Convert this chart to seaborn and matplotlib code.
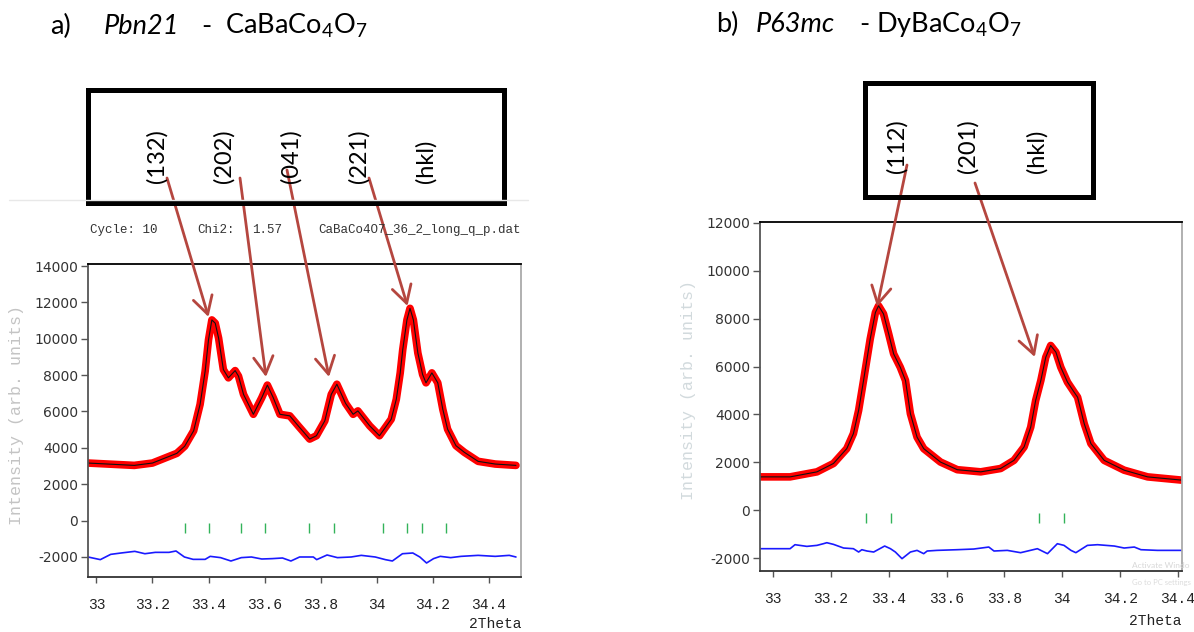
import numpy as np
import pandas as pd
import matplotlib
matplotlib.use("Agg")
import matplotlib.pyplot as plt
import seaborn as sns
from matplotlib.patches import Rectangle
from matplotlib.lines import Line2D

# ---------------- data ----------------
# panel a) Pbn21 - CaBaCo4O7
a_two_theta = [32.970, 33.135, 33.200, 33.287, 33.315, 33.347, 33.370, 33.388, 33.400, 33.412,
               33.424, 33.436, 33.444, 33.453, 33.471, 33.495, 33.507, 33.525, 33.560, 33.590,
               33.610, 33.631, 33.655, 33.690, 33.720, 33.761, 33.785, 33.815, 33.838, 33.858,
               33.889, 33.916, 33.933, 33.975, 34.010, 34.052, 34.070, 34.084, 34.093, 34.108,
               34.119, 34.131, 34.147, 34.164, 34.176, 34.197, 34.218, 34.236, 34.253, 34.283,
               34.313, 34.362, 34.423, 34.497]
a_intensity = [3166, 3037, 3166, 3700, 4090, 4940, 6393, 8216, 9942, 11035,
               10853, 10034, 9215, 8304, 7850, 8249, 7943, 6938, 5846, 6758,
               7452, 6758, 5846, 5760, 5213, 4484, 4667, 5486, 6938, 7500,
               6450, 5846, 6032, 5213, 4667, 5578, 6667, 8123, 9396, 11035,
               11672, 11035, 9215, 8031, 7577, 8123, 7577, 6120, 5029, 4120,
               3755, 3259, 3111, 3037]
a_diff_two_theta = [32.970, 33.014, 33.051, 33.088, 33.137, 33.173, 33.210, 33.259, 33.284, 33.314,
                    33.345, 33.388, 33.406, 33.443, 33.480, 33.517, 33.553, 33.590, 33.627, 33.664,
                    33.694, 33.725, 33.774, 33.786, 33.823, 33.860, 33.909, 33.945, 33.995, 34.031,
                    34.056, 34.092, 34.129, 34.154, 34.178, 34.203, 34.227, 34.264, 34.301, 34.362,
                    34.423, 34.473, 34.497]
a_diff = [-2000, -2145, -1855, -1780, -1690, -1820, -1745, -1745, -1670, -2000,
          -2130, -2130, -1965, -2035, -2220, -2035, -2000, -2110, -2090, -2055,
          -2220, -2000, -2000, -2145, -1890, -2035, -2000, -1910, -2000, -2145,
          -2220, -1820, -1780, -2000, -2330, -2090, -1965, -2035, -1965, -1910,
          -1965, -1910, -2000]
a_bragg = [33.317, 33.402, 33.515, 33.600, 33.760, 33.846, 34.024, 34.110, 34.161, 34.247]
a_hkl = ["(132)", "(202)", "(041)", "(221)", "(hkl)"]
a_hkl_peak_x = [33.400, 33.605, 33.830, 34.110]
a_hkl_peak_y = [11200, 7900, 7900, 11800]

# panel b) P63mc - DyBaCo4O7
b_two_theta = [32.955, 33.059, 33.152, 33.209, 33.255, 33.278, 33.296, 33.313, 33.336, 33.354,
               33.365, 33.382, 33.400, 33.417, 33.440, 33.458, 33.475, 33.498, 33.521, 33.579,
               33.637, 33.718, 33.787, 33.833, 33.868, 33.891, 33.908, 33.926, 33.943, 33.960,
               33.978, 33.995, 34.018, 34.041, 34.053, 34.076, 34.099, 34.145, 34.214, 34.295,
               34.417]
b_intensity = [1390, 1390, 1600, 1950, 2570, 3200, 4170, 5420, 7150, 8260,
               8540, 8200, 7360, 6530, 5970, 5420, 4030, 3050, 2570, 2010,
               1690, 1600, 1740, 2080, 2640, 3470, 4580, 5420, 6390, 6880,
               6600, 5970, 5350, 4930, 4720, 3610, 2780, 2080, 1670, 1390,
               1250]
b_diff_two_theta = [32.955, 33.059, 33.076, 33.117, 33.152, 33.174, 33.186, 33.209, 33.244, 33.278,
                    33.296, 33.307, 33.325, 33.348, 33.386, 33.406, 33.423, 33.446, 33.475, 33.498,
                    33.521, 33.533, 33.567, 33.637, 33.694, 33.746, 33.764, 33.810, 33.856, 33.914,
                    33.949, 33.983, 34.006, 34.030, 34.047, 34.087, 34.122, 34.180, 34.214, 34.249,
                    34.272, 34.329, 34.417]
b_diff = [-1611, -1611, -1444, -1514, -1472, -1403, -1361, -1430, -1583, -1611,
          -1750, -1653, -1708, -1750, -1500, -1611, -1750, -2028, -1750, -1681,
          -1819, -1708, -1681, -1653, -1625, -1542, -1708, -1681, -1778, -1611,
          -1819, -1403, -1472, -1681, -1778, -1472, -1444, -1500, -1583, -1542,
          -1653, -1681, -1681]
b_bragg = [33.322, 33.409, 33.920, 34.006]
b_hkl = ["(112)", "(201)", "(hkl)"]
b_hkl_peak_x = [33.360, 33.905]
b_hkl_peak_y = [8500, 6400]

x_ticks = [33, 33.2, 33.4, 33.6, 33.8, 34, 34.2, 34.4]
x_tick_labels = ["33", "33.2", "33.4", "33.6", "33.8", "34", "34.2", "34.4"]
a_y_ticks = [-2000, 0, 2000, 4000, 6000, 8000, 10000, 12000, 14000]
b_y_ticks = [-2000, 0, 2000, 4000, 6000, 8000, 10000, 12000]

# ---------------- style ----------------
sns.set_theme(style="white")
plt.rcParams["font.family"] = ["Lato", "DejaVu Sans"]
plt.rcParams["mathtext.fontset"] = "custom"
plt.rcParams["mathtext.rm"] = "Lato"
plt.rcParams["mathtext.it"] = "Lato:italic"

W, H = 1194, 632
fig = plt.figure(figsize=(W / 100, H / 100), dpi=100)
fig.patch.set_facecolor("white")


def fx(p):
    return p / W


def fy(p):
    return 1 - p / H


ARROW = "#b5463f"
MONO = ["Liberation Mono", "DejaVu Sans Mono"]


def make_panel(rect, tt, inten, dtt, dif, bragg, bragg_lo, bragg_hi, xlim, ylim, yticks):
    ax = fig.add_axes(rect)
    obs = pd.DataFrame({"2Theta": tt, "Intensity": inten})
    dd = pd.DataFrame({"2Theta": dtt, "Diff": dif})
    sns.lineplot(data=obs, x="2Theta", y="Intensity", ax=ax, color="#ff0000",
                 lw=5.5, sort=False, estimator=None, solid_capstyle="round",
                 solid_joinstyle="round")
    sns.lineplot(data=obs, x="2Theta", y="Intensity", ax=ax, color="#111111",
                 lw=0.8, sort=False, estimator=None)
    sns.lineplot(data=dd, x="2Theta", y="Diff", ax=ax, color="#1a1aff",
                 lw=1.2, sort=False, estimator=None)
    ax.vlines(bragg, bragg_lo, bragg_hi, color="#33b35a", lw=1.0)
    ax.set_xlim(*xlim)
    ax.set_ylim(*ylim)
    ax.set_xticks(x_ticks)
    ax.set_xticklabels(x_tick_labels, family=MONO, fontsize=10.5, color="#222222")
    ax.set_yticks(yticks)
    ax.set_yticklabels([str(v) for v in yticks], family="DejaVu Sans", fontsize=10, color="#333333")
    ax.set_xlabel("")
    ax.set_ylabel("")
    ax.tick_params(axis="x", direction="out", length=4, width=1, color="#555555", pad=11, bottom=True)
    ax.tick_params(axis="y", direction="out", length=5, width=1, color="#555555", pad=2, left=True)
    for side, col in [("top", "black"), ("left", "#555555"), ("bottom", "#333333"), ("right", "#aaaaaa")]:
        ax.spines[side].set_color(col)
        ax.spines[side].set_linewidth(1.3)
    ax.grid(False)
    return ax


# panel a axes: pixel frame x 88..521, y 264..577
ax_a = make_panel([fx(88), fy(577), (521 - 88) / W, (577 - 264) / H],
                  a_two_theta, a_intensity, a_diff_two_theta, a_diff,
                  a_bragg, -700, -150, (32.97, 34.515), (-3100, 14110), a_y_ticks)
# panel b axes: pixel frame x 760..1182, y 222..571
ax_b = make_panel([fx(760), fy(571), (1182 - 760) / W, (571 - 222) / H],
                  b_two_theta, b_intensity, b_diff_two_theta, b_diff,
                  b_bragg, -555, -140, (32.955, 34.414), (-2543, 12040), b_y_ticks)

# axis name "2Theta"
fig.text(fx(521), fy(624), "2Theta", family=MONO, fontsize=10.5, ha="right", va="center", color="#222222")
fig.text(fx(1182), fy(621), "2Theta", family=MONO, fontsize=10.5, ha="right", va="center", color="#222222")

# faint y-axis names
fig.text(fx(17), fy(415), "Intensity (arb. units)", rotation=90, family=MONO, fontsize=12,
         ha="center", va="center", color="#c4c4c4")
fig.text(fx(688), fy(390), "Intensity (arb. units)", rotation=90, family=MONO, fontsize=12,
         ha="center", va="center", color="#d2dadd")

# refinement info line above panel a
fig.text(fx(90), fy(230), "Cycle: 10", family=MONO, fontsize=9, va="center", color="#333333")
fig.text(fx(197), fy(230), "Chi2:", family=MONO, fontsize=9, va="center", color="#333333")
fig.text(fx(252), fy(230), "1.57", family=MONO, fontsize=9, va="center", color="#333333")
fig.text(fx(521), fy(230), "CaBaCo4O7_36_2_long_q_p.dat", family=MONO, fontsize=9,
         ha="right", va="center", color="#333333")

# faint screenshot border line
fig.add_artist(Line2D([fx(9), fx(528)], [fy(200), fy(200)], color="#e8e8e8", lw=1))

# titles
TS = 19.5
fig.text(fx(50), fy(34), "a)", fontsize=TS, va="baseline", color="black")
fig.text(fx(104), fy(34), "Pbn21", fontsize=TS, style="italic", va="baseline", color="black")
fig.text(fx(201), fy(34), "-", fontsize=TS, va="baseline", color="black")
fig.text(fx(225), fy(34), r"CaBaCo$_4$O$_7$", fontsize=TS, va="baseline", color="black")

fig.text(fx(716), fy(32), "b)", fontsize=TS, va="baseline", color="black")
fig.text(fx(756), fy(32), "P63mc", fontsize=TS, style="italic", va="baseline", color="black")
fig.text(fx(859), fy(32), "-", fontsize=TS, va="baseline", color="black")
fig.text(fx(876), fy(32), r"DyBaCo$_4$O$_7$", fontsize=TS, va="baseline", color="black")

# hkl boxes
fig.add_artist(Rectangle((fx(88), fy(203)), (504 - 88) / W, (203 - 90) / H,
                         transform=fig.transFigure, fill=False, lw=3.6, ec="black"))
fig.add_artist(Rectangle((fx(865), fy(197)), (1093 - 865) / W, (197 - 83) / H,
                         transform=fig.transFigure, fill=False, lw=3.6, ec="black"))

a_label_x = [157, 224, 291, 359, 426]
for lab, xx in zip(a_hkl, a_label_x):
    fig.text(fx(xx), fy(183), lab, rotation=90, fontsize=17, ha="center", va="bottom", color="black")
b_label_x = [897, 968, 1037]
for lab, xx in zip(b_hkl, b_label_x):
    fig.text(fx(xx), fy(173), lab, rotation=90, fontsize=17, ha="center", va="bottom", color="black")

# arrows from labels to peaks
arrow_kw = dict(arrowstyle="->,head_length=0.5,head_width=0.28", color=ARROW, lw=2.0,
                shrinkA=0, shrinkB=0, mutation_scale=25)
a_tails = [(167, 178), (240, 178), (287, 170), (369, 178)]
for (tx, ty), px, py in zip(a_tails, a_hkl_peak_x, a_hkl_peak_y):
    ax_a.annotate("", xy=(px, py), xycoords="data", xytext=(fx(tx), fy(ty)),
                  textcoords="figure fraction", arrowprops=arrow_kw, annotation_clip=False)
b_tails = [(907, 165), (975, 183)]
for (tx, ty), px, py in zip(b_tails, b_hkl_peak_x, b_hkl_peak_y):
    ax_b.annotate("", xy=(px, py), xycoords="data", xytext=(fx(tx), fy(ty)),
                  textcoords="figure fraction", arrowprops=arrow_kw, annotation_clip=False)

# faint OS watermark visible in the screenshot
fig.text(fx(1132), fy(566), "Activate Windo", fontsize=6, color="#d8d8d8", va="center")
fig.text(fx(1132), fy(582), "Go to PC settings", fontsize=5.5, color="#dcdcdc", va="center")

fig.savefig("out.png", dpi=100, facecolor="white")
